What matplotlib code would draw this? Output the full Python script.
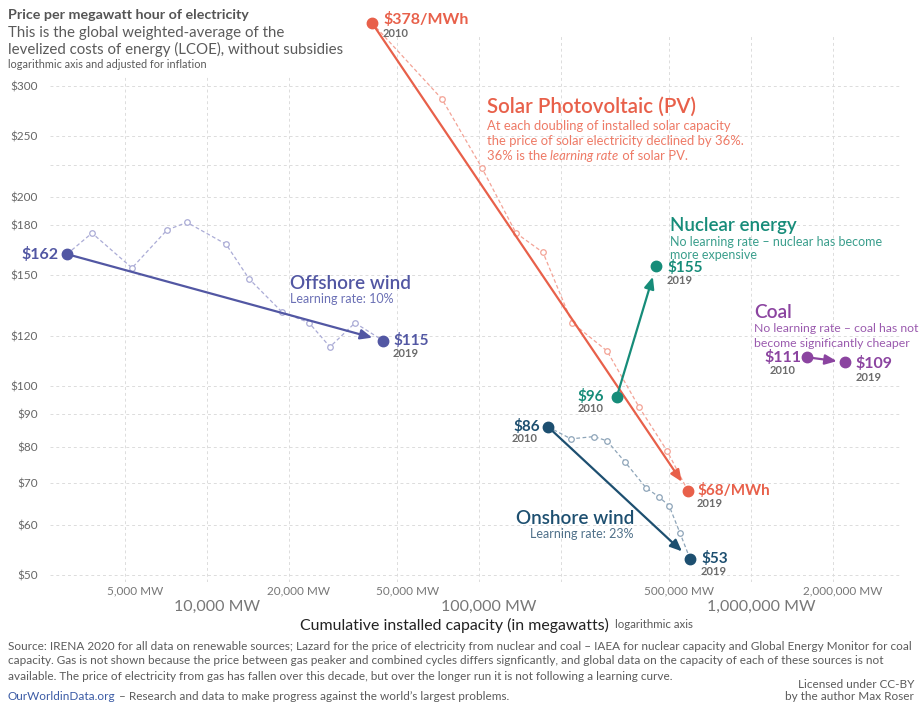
import matplotlib
matplotlib.use("Agg")
import matplotlib.pyplot as plt
from matplotlib.patches import Rectangle
from matplotlib.transforms import offset_copy

plt.rcParams["font.family"] = ["Lato", "DejaVu Sans"]

# 数据：累计装机容量 (MW) 与度电成本 ($/MWh)
solar_mw = [40440, 73100, 102600, 136800, 171900, 219800, 295600, 387500, 491000, 586600]
solar_price = [378, 286, 222, 175, 163, 126, 113.6, 92.5, 78.8, 68]

onshore_mw = [179400, 217800, 264800, 295600, 344300, 411000, 459000, 500000, 548000, 597000]
onshore_price = [86, 82.3, 83, 81.7, 75.6, 68.8, 66.5, 64.4, 58.3, 53]

offshore_mw = [3057, 3777, 5300, 7130, 8440, 11750, 14270, 18870, 23700, 28320, 35000, 44360]
offshore_price = [162, 175, 154, 177, 182, 168, 148, 131, 126, 115.3, 125.9, 118]

nuclear_mw = [321000, 447500]
nuclear_price = [96, 155]

coal_mw = [1607000, 2217000]
coal_price = [111, 109]

y_ticks = [50, 60, 70, 80, 90, 100, 120, 150, 180, 200, 250, 300]
y_extra_grid = [225]
x_grid = [5000, 10000, 20000, 50000, 100000, 200000, 500000, 1000000, 2000000]
x_minor_labels = {5000: "5,000 MW", 20000: "20,000 MW", 50000: "50,000 MW",
                  500000: "500,000 MW", 2000000: "2,000,000 MW"}
x_major_labels = {10000: "10,000 MW", 100000: "100,000 MW", 1000000: "1,000,000 MW"}

# 颜色
SOLAR = "#E8604A"
SOLAR_LIGHT = "#F3A396"
SOLAR_TEXT = "#EE7A66"
NUCLEAR = "#168C79"
NUCLEAR_TEXT = "#3A9E8C"
OFFSHORE = "#5257A3"
OFFSHORE_LIGHT = "#ABACD6"
OFFSHORE_TEXT = "#6B70B5"
ONSHORE = "#1D4F70"
ONSHORE_LIGHT = "#8EA5B9"
ONSHORE_TEXT = "#4F7089"
COAL = "#8B44A0"
COAL_TEXT = "#9A5AAE"
GREY = "#5b5b5b"
YEAR = "#6b6b6b"

W, H = 920, 704
fig = plt.figure(figsize=(W / 100, H / 100), dpi=100)
ax = fig.add_axes([50 / W, 1 - 582 / H, 850 / W, (582 - 36) / H])

ax.set_xscale("log")
ax.set_yscale("log")
ax.set_xlim(2647, 3530000)
ax.set_ylim(48.7, 360.4)

for s in ax.spines.values():
    s.set_visible(False)
ax.set_xticks(x_grid)
ax.set_xticklabels([])
ax.set_xticks([], minor=True)
ax.set_yticks(y_ticks + y_extra_grid)
ax.set_yticklabels([f"${v}" for v in y_ticks] + [""], fontsize=8.5, color="#666666")
ax.set_yticks([], minor=True)
ax.tick_params(length=0)
ax.tick_params(axis="y", pad=9)
ax.grid(True, color="#dcdcdc", linestyle=(0, (3, 3)), linewidth=0.7)
ax.set_axisbelow(True)

# x 轴刻度标签（两层）
xt = offset_copy(ax.get_xaxis_transform(), fig=fig, x=10, y=0, units="dots")
for v, lab in x_minor_labels.items():
    ax.text(v, -0.016, lab, transform=xt, ha="center", va="center",
            fontsize=8.5, color="#777777")
for v, lab in x_major_labels.items():
    ax.text(v, -0.045, lab, transform=xt, ha="center", va="center",
            fontsize=11.5, color="#777777")


def series(xs, ys, line_col, dot_col=None, light=None, shrink=8):
    if light is not None:
        ax.plot(xs, ys, color=light, lw=0.9, ls=(0, (3, 2)), marker="o", ms=4,
                mfc="white", mec=light, mew=0.9, zorder=3, clip_on=False)
    ax.annotate("", xy=(xs[-1], ys[-1]), xytext=(xs[0], ys[0]),
                arrowprops=dict(arrowstyle="-|>,head_length=0.7,head_width=0.3",
                                color=line_col, lw=1.6, shrinkA=0, shrinkB=shrink),
                zorder=4, annotation_clip=False)
    ax.plot([xs[0], xs[-1]], [ys[0], ys[-1]], ls="none", marker="o", ms=7.5,
            color=dot_col or line_col, zorder=5, clip_on=False)


series(solar_mw, solar_price, SOLAR, light=SOLAR_LIGHT)
series(onshore_mw, onshore_price, ONSHORE, light=ONSHORE_LIGHT)
series(offshore_mw, offshore_price, OFFSHORE, light=OFFSHORE_LIGHT)
series(nuclear_mw, nuclear_price, NUCLEAR)
series(coal_mw, coal_price, COAL, shrink=6)


def label(x, y, s, dx, dy, color, size=10.5, ha="left", weight="bold"):
    ax.annotate(s, (x, y), xytext=(dx, -dy), textcoords="offset pixels",
                ha=ha, va="center", fontsize=size, color=color,
                fontweight=weight, annotation_clip=False)


# 端点数值标签
YS = 8
label(solar_mw[0], solar_price[0], "$378/MWh", 11, -3, SOLAR, 11.5)
label(solar_mw[0], solar_price[0], "2010", 11, 11, YEAR, YS)
label(solar_mw[-1], solar_price[-1], "$68/MWh", 9, 0, SOLAR, 11)
label(solar_mw[-1], solar_price[-1], "2019", 9, 13, YEAR, YS)
label(offshore_mw[0], offshore_price[0], "$162", -8, 0, OFFSHORE, 11.5, ha="right")
label(offshore_mw[-1], offshore_price[-1], "$115", 10, 0, OFFSHORE, 11)
label(offshore_mw[-1], offshore_price[-1], "2019", 10, 13, YEAR, YS)
label(onshore_mw[0], onshore_price[0], "$86", -8, 0, ONSHORE, 11, ha="right")
label(onshore_mw[0], onshore_price[0], "2010", -10, 12, YEAR, YS, ha="right")
label(onshore_mw[-1], onshore_price[-1], "$53", 11, 0, ONSHORE, 11)
label(onshore_mw[-1], onshore_price[-1], "2019", 11, 13, YEAR, YS)
label(nuclear_mw[0], nuclear_price[0], "$96", -13, 0, NUCLEAR, 11, ha="right")
label(nuclear_mw[0], nuclear_price[0], "2010", -13, 12, YEAR, YS, ha="right")
label(nuclear_mw[-1], nuclear_price[-1], "$155", 11, 1, NUCLEAR, 11)
label(nuclear_mw[-1], nuclear_price[-1], "2019", 11, 14, YEAR, YS)
label(coal_mw[0], coal_price[0], "$111", -6, 0, COAL, 11.5, ha="right")
label(coal_mw[0], coal_price[0], "2010", -11, 13, YEAR, YS, ha="right")
label(coal_mw[-1], coal_price[-1], "$109", 10, 1, COAL, 11.5)
label(coal_mw[-1], coal_price[-1], "2019", 11, 15, YEAR, YS)


def ftext(x, y, s, **kw):
    kw.setdefault("va", "center")
    return fig.text(x / W, 1 - y / H, s, **kw)


# 系列名称与说明
DESC = 9.0
ftext(487, 107, "Solar Photovoltaic (PV)", fontsize=14.8, color=SOLAR, fontweight="semibold")
ftext(487, 126, "At each doubling of installed solar capacity", fontsize=9.4, color=SOLAR_TEXT)
ftext(487, 141, "the price of solar electricity declined by 36%.", fontsize=9.4, color=SOLAR_TEXT)
t1 = ftext(487, 156, "36% is the ", fontsize=9.4, color=SOLAR_TEXT)

ftext(670, 226, "Nuclear energy", fontsize=13.5, color=NUCLEAR, fontweight="semibold")
ftext(670, 242, "No learning rate \u2013 nuclear has become", fontsize=DESC, color=NUCLEAR_TEXT)
ftext(670, 255, "more expensive", fontsize=DESC, color=NUCLEAR_TEXT)

ftext(754, 313, "Coal", fontsize=13.8, color=COAL, fontweight="semibold")
ftext(754, 329, "No learning rate \u2013 coal has not", fontsize=8.8, color=COAL_TEXT)
ftext(754, 343, "become significantly cheaper", fontsize=8.8, color=COAL_TEXT)

ftext(290, 284, "Offshore wind", fontsize=13.6, color=OFFSHORE, fontweight="semibold")
ftext(290, 299, "Learning rate: 10%", fontsize=DESC, color=OFFSHORE_TEXT)

ftext(634, 519, "Onshore wind", fontsize=13.6, color=ONSHORE, fontweight="semibold", ha="right")
ftext(634, 534, "Learning rate: 23%", fontsize=DESC, color=ONSHORE_TEXT, ha="right")

# 标题区域（遮住网格线）
fig.patches.append(Rectangle((0, 1 - 76 / H), 364 / W, 76 / H, transform=fig.transFigure,
                             facecolor="white", edgecolor="none", zorder=1))
ftext(8, 15, "Price per megawatt hour of electricity", fontsize=10.3, color="#555555",
      fontweight="bold", zorder=5)
ftext(8, 33, "This is the global weighted-average of the", fontsize=10.8, color=GREY, zorder=5)
ftext(8, 49, "levelized costs of energy (LCOE), without subsidies", fontsize=10.8, color=GREY, zorder=5)
ftext(8, 64, "logarithmic axis and adjusted for inflation", fontsize=7.8, color=GREY, zorder=5)

# x 轴标题
t2 = ftext(300, 625, "Cumulative installed capacity (in megawatts)", fontsize=11.4, color="#222222")

# 页脚
foot = dict(fontsize=8.5, color=GREY)
ftext(8, 647, "Source: IRENA 2020 for all data on renewable sources; Lazard for the price of electricity "
      "from nuclear and coal \u2013 IAEA for nuclear capacity and Global Energy Monitor for coal", **foot)
ftext(8, 661, "capacity. Gas is not shown because the price between gas peaker and combined cycles differs "
      "signficantly, and global data on the capacity of each of these sources is not", **foot)
ftext(8, 676, "available. The price of electricity from gas has fallen over this decade, but over the "
      "longer run it is not following a learning curve.", **foot)
t3 = ftext(8, 697, "OurWorldinData.org", fontsize=8.5, color="#3b5ba5")
ftext(914, 685, "Licensed under CC-BY", ha="right", **foot)
ftext(914, 697, "by the author Max Roser", ha="right", **foot)

# 需要拼接的文字
fig.canvas.draw()
r = fig.canvas.get_renderer()


def after(t, s, **kw):
    bb = t.get_window_extent(r)
    x, y = t.get_position()
    return fig.text(bb.x1 / W, y, s, va="center", **kw)


t4 = after(t1, "learning rate", fontsize=9.4, color=SOLAR_TEXT, style="italic")
fig.canvas.draw()
after(t4, " of solar PV.", fontsize=9.4, color=SOLAR_TEXT)
after(t2, "  logarithmic axis", fontsize=8.3, color=GREY)
after(t3, " \u2013 Research and data to make progress against the world\u2019s largest problems.", **foot)

fig.savefig("out.png", dpi=100)
